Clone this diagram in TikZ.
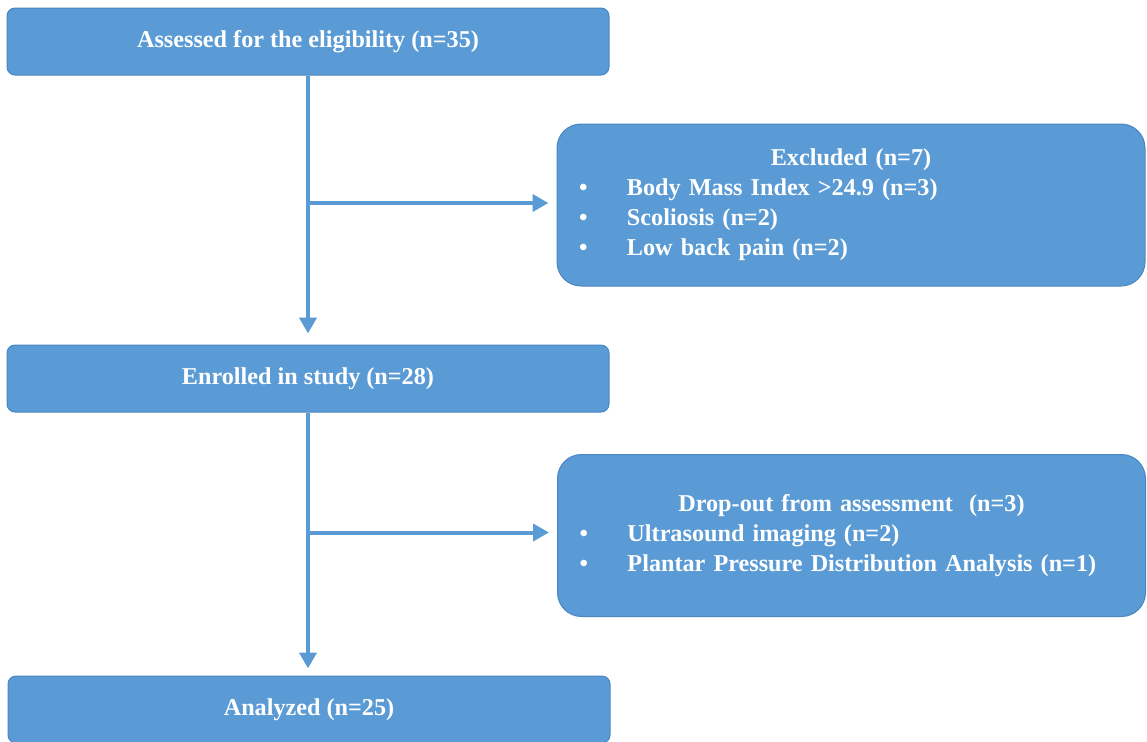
\documentclass[tikz,border=0pt]{standalone}
\usepackage{fontspec}
\setmainfont{Liberation Serif}
\usetikzlibrary{arrows.meta, positioning, calc}

\definecolor{flowblue}{HTML}{5B9BD5}
\definecolor{flowedge}{HTML}{4A86C2}
% bullet line inside the side boxes
\newcommand{\bitem}[1]{\par\noindent\makebox[35pt][l]{\hspace{11pt}\textbullet}#1}

\begin{document}
\begin{tikzpicture}[
    x=0.5pt, y=-0.5pt, % image pixels
    every node/.style={font=\fontsize{12.1}{15}\selectfont\bfseries, text=white}, % Times bold, white
    mainbox/.style={draw=flowedge, fill=flowblue, line width=0.5pt, rounded corners=4pt,
        minimum width=301pt, minimum height=33.5pt, inner sep=0pt}, % main steps
    sidebox/.style={draw=flowedge, fill=flowblue, line width=0.5pt, rounded corners=12pt,
        text width=294pt, minimum height=81pt, inner sep=0pt}, % excluded boxes
    arr/.style={flowblue, line width=2pt, -{Triangle[length=8pt, width=8.5pt]}} % connectors
]
    \useasboundingbox (0,0) rectangle (1147,741);
    \clip (0,0) rectangle (1147,741);

    % 1. main column
    \node[mainbox] (assess) at (308,41.5) {Assessed for the eligibility (n=35)};
    \node[mainbox] (enrol)  at (308,378.5) {Enrolled in study (n=28)};
    \node[mainbox] (anlz)   at (309,709.5) {Analyzed (n=25)};

    % 2. side boxes
    \node[sidebox] (excl) at (851,205) {{\centering Excluded (n=7)\par}
        \bitem{Body Mass Index >24.9 (n=3)}
        \bitem{Scoliosis (n=2)}
        \bitem{Low back pain (n=2)}};
    \node[sidebox] (drop) at (851.5,535.5) {{\centering Drop-out from assessment \ (n=3)\par}
        \bitem{Ultrasound imaging (n=2)}
        \bitem{Plantar Pressure Distribution Analysis (n=1)}};

    % 3. connectors
    \coordinate (b1) at ($(assess.south |- excl.west)+(0,-2)$);
    \coordinate (b2) at ($(enrol.south |- drop.west)+(0,-3)$);
    \draw[arr] (assess.south) -- ([yshift=5.5pt]enrol.north);
    \draw[arr] (b1) -- ([xshift=-4pt,yshift=1pt]excl.west);
    \draw[arr] (enrol.south) -- ([yshift=3.5pt]enrol.south |- anlz.north);
    \draw[arr] (b2) -- ([xshift=-4pt,yshift=1.5pt]drop.west);

\end{tikzpicture}
\end{document}
